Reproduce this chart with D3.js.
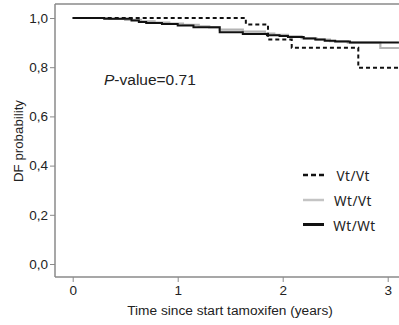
<!DOCTYPE html>
<html><head><meta charset="utf-8">
<script src="https://cdn.jsdelivr.net/npm/d3@7"></script>
<style>body{margin:0;background:#fff}svg{display:block}</style>
</head><body>
<script>
const seriesNames = ["Vt/Vt", "Wt/Vt", "Wt/Wt"];
const vtvtTimes = [0, 1.649, 1.86, 2.086, 2.72];
const vtvtSurv  = [1.0, 0.974, 0.913, 0.879, 0.798];
const wtvtTimes = [0, 0.35, 0.50, 0.65, 0.78, 0.92, 1.05, 1.20, 1.30, 1.40, 1.62, 1.83, 1.92, 2.05, 2.18, 2.32, 2.45, 2.62, 2.93];
const wtvtSurv  = [1.0, 0.996, 0.992, 0.986, 0.981, 0.977, 0.972, 0.966, 0.962, 0.953, 0.945, 0.937, 0.931, 0.925, 0.918, 0.912, 0.906, 0.900, 0.878];
const wtwtTimes = [0, 0.30, 0.56, 0.63, 0.70, 0.85, 1.00, 1.15, 1.40, 1.62, 1.85, 1.97, 2.05, 2.20, 2.31, 2.40, 2.50, 2.64];
const wtwtSurv  = [1.0, 0.997, 0.990, 0.984, 0.980, 0.976, 0.970, 0.962, 0.942, 0.935, 0.930, 0.927, 0.923, 0.917, 0.913, 0.908, 0.904, 0.900];
const xTicks = [0, 1, 2, 3];
const yTicks = [0, 0.2, 0.4, 0.6, 0.8, 1.0];
const yTickLabels = ["0,0", "0,2", "0,4", "0,6", "0,8", "1,0"];
const tEnd = 3.107;

(function () {
const W = 399, H = 325;
const svg = d3.select("body").append("svg").attr("width", W).attr("height", H);
const x = d3.scaleLinear().domain([0, 3]).range([72.7, 387.7]);
const y = d3.scaleLinear().domain([0, 1]).range([264, 18]);
const mLeft = 55, mTop = 4, mBottom = 277, mRight = 399;
const axisCol = "#8a8a8a";
const font = "Liberation Sans, Arial, sans-serif";

svg.append("line").attr("x1", mLeft).attr("x2", mRight).attr("y1", mTop).attr("y2", mTop).attr("stroke", axisCol).attr("stroke-width", 1.5);
svg.append("line").attr("x1", mLeft).attr("x2", mLeft).attr("y1", mTop).attr("y2", mBottom).attr("stroke", axisCol).attr("stroke-width", 1.5);
svg.append("line").attr("x1", mLeft).attr("x2", mRight).attr("y1", mBottom).attr("y2", mBottom).attr("stroke", axisCol).attr("stroke-width", 1.5);

const yAxis = d3.axisLeft(y).tickValues(yTicks).tickFormat((d, i) => yTickLabels[i]).tickSize(5).tickSizeOuter(0);
const gy = svg.append("g").attr("transform", `translate(${mLeft},0)`).call(yAxis);
gy.select(".domain").remove();
gy.selectAll("line").attr("stroke", axisCol);
gy.selectAll("text").attr("font-family", font).attr("font-size", 13.5).attr("fill", "#222").attr("x", -7);

const xAxis = d3.axisBottom(x).tickValues(xTicks).tickFormat(d3.format("d")).tickSize(5).tickSizeOuter(0);
const gx = svg.append("g").attr("transform", `translate(0,${mBottom})`).call(xAxis);
gx.select(".domain").remove();
gx.selectAll("line").attr("stroke", axisCol);
gx.selectAll("text").attr("font-family", font).attr("font-size", 13.5).attr("fill", "#222").attr("y", 8);

svg.append("text").attr("x", 230).attr("y", 315).attr("text-anchor", "middle")
  .attr("font-family", font).attr("font-size", 13.7).attr("fill", "#222")
  .text("Time since start tamoxifen (years)");
svg.append("text").attr("transform", "translate(23,141) rotate(-90)").attr("text-anchor", "middle")
  .attr("font-family", font).attr("font-size", 13.3).attr("fill", "#222")
  .text("DF probability");

const pt = svg.append("text").attr("x", 104).attr("y", 85)
  .attr("font-family", font).attr("font-size", 15.5).attr("fill", "#222");
pt.append("tspan").attr("font-style", "italic").text("P");
pt.append("tspan").text("-value=0.71");

function stepData(ts, ss) {
  const d = ts.map((t, i) => ({t, s: ss[i]}));
  d.push({t: tEnd, s: ss[ss.length - 1]});
  return d;
}
const line = d3.line().x(d => x(d.t)).y(d => y(d.s)).curve(d3.curveStepAfter);
const series = [
  {name: seriesNames[0], data: stepData(vtvtTimes, vtvtSurv), color: "#111", dash: "4,3", width: 2},
  {name: seriesNames[1], data: stepData(wtvtTimes, wtvtSurv), color: "#b4b4b4", dash: null, width: 2.2},
  {name: seriesNames[2], data: stepData(wtwtTimes, wtwtSurv), color: "#111", dash: null, width: 2}
];
[1, 2, 0].forEach(i => {
  const s = series[i];
  svg.append("path").datum(s.data).attr("d", line).attr("fill", "none")
    .attr("stroke", s.color).attr("stroke-width", s.width)
    .attr("stroke-dasharray", s.dash);
});

const legY = [175, 200, 224.5];
const legX = [336.5, 334, 333.3];
series.forEach((s, i) => {
  svg.append("line").attr("x1", 303).attr("x2", 324).attr("y1", legY[i]).attr("y2", legY[i])
    .attr("stroke", i === 1 ? "#c4c4c4" : s.color).attr("stroke-width", i === 2 ? 3 : 2.5)
    .attr("stroke-dasharray", s.dash ? "5,3" : null);
  svg.append("text").attr("x", legX[i]).attr("y", legY[i] + 6)
    .attr("font-family", "Noto Sans, Open Sans, sans-serif").attr("font-size", 13.5)
    .attr("letter-spacing", 0.5).attr("fill", "#222")
    .text(s.name);
});
})();
</script>
</body></html>
